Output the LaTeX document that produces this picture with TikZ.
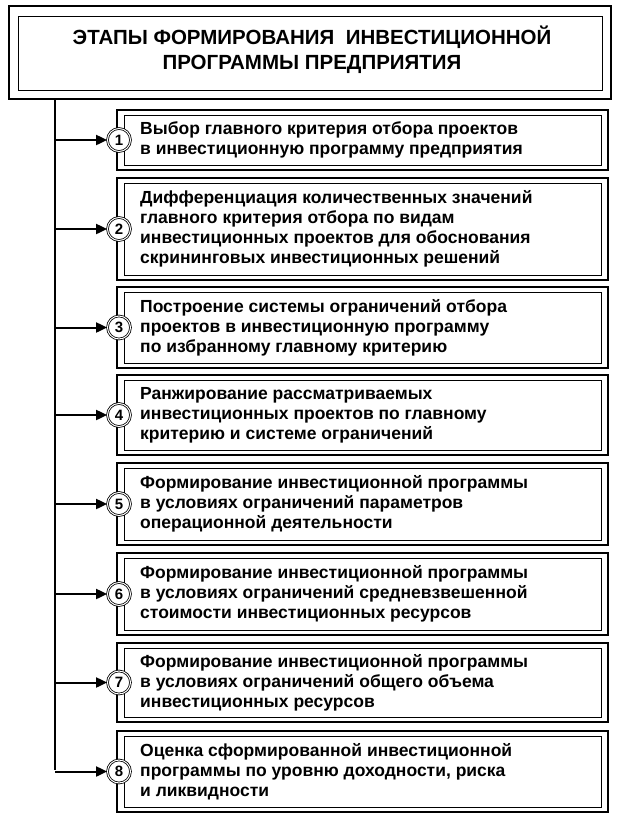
\documentclass[tikz,border=0pt]{standalone}
\usepackage{fontspec}
\setmainfont{Liberation Sans}
\usetikzlibrary{arrows.meta}
\begin{document}
\begin{tikzpicture}[x=1pt,y=-1pt,
  txt/.style={anchor=west,align=left,font=\bfseries\fontsize{17.5}{20}\selectfont,inner sep=0pt},
  num/.style={circle,draw,line width=0.8pt,double,double distance=1pt,fill=white,minimum size=23pt,inner sep=0pt,font=\bfseries\fontsize{15}{15}\selectfont},
  arr/.style={line width=2pt,-{Triangle[length=11pt,width=10pt]}}]
\useasboundingbox (0,0) rectangle (619,817);
% title
\draw[line width=2.2pt] (9,6) rectangle (611,99);
\draw[line width=0.8pt] (18,16) rectangle (602,90);
\node[font=\bfseries\fontsize{20.5}{25}\selectfont,align=center] (title) at (312,50) {ЭТАПЫ ФОРМИРОВАНИЯ \ ИНВЕСТИЦИОННОЙ\\ПРОГРАММЫ ПРЕДПРИЯТИЯ};
\coordinate (top) at (55,99);
\coordinate (bot) at (55,770);
\draw[line width=2pt] (top) -- (bot);
\foreach \i/\ya/\yb/\t in {
 1/110/170/{Выбор главного критерия отбора проектов\\в инвестиционную программу предприятия},
 2/178/280/{Дифференциация количественных значений\\главного критерия отбора по видам\\инвестиционных проектов для обоснования\\скрининговых инвестиционных решений},
 3/287/368/{Построение системы ограничений отбора\\проектов в инвестиционную программу\\по избранному главному критерию},
 4/375/455/{Ранжирование рассматриваемых\\инвестиционных проектов по главному\\критерию и системе ограничений},
 5/463/545/{Формирование инвестиционной программы\\в условиях ограничений параметров\\операционной деятельности},
 6/553/635/{Формирование инвестиционной программы\\в условиях ограничений средневзвешенной\\стоимости инвестиционных ресурсов},
 7/643/722/{Формирование инвестиционной программы\\в условиях ограничений общего объема\\инвестиционных ресурсов},
 8/731/812/{Оценка сформированной инвестиционной\\программы по уровню доходности, риска\\и ликвидности}}{
  \draw[line width=2pt] (117,\ya) rectangle (608,\yb);
  \draw[line width=0.7pt] (124,\ya+5) rectangle (601,\yb-5);
  \node[num] (n\i) at (119,{(\ya+\yb)/2}) {\i};
  \node[txt] (t\i) at (140,{(\ya+\yb)/2}) {\t};
  \coordinate (s\i) at (55,{(\ya+\yb)/2});
  \draw[arr] (s\i) -- (n\i);
}
\end{tikzpicture}
\end{document}
